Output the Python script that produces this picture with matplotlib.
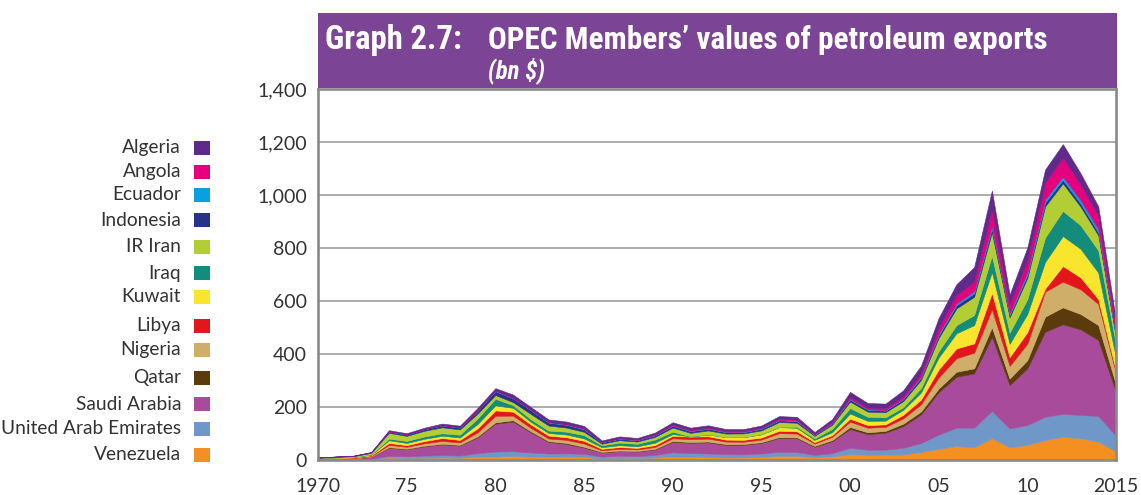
import matplotlib
matplotlib.use('Agg')
import matplotlib.pyplot as plt
from matplotlib import font_manager
from matplotlib.patches import Rectangle

# ---------------- data (bn $) ----------------
years = list(range(1970, 2016))

venezuela = [1.6, 2.0, 2.0, 3.2, 9.5, 7.5, 8.5, 9.0, 8.4, 13.2,
             13, 15, 13, 12, 13, 11.5, 6.0, 8.2, 7.5, 9.0,
             12, 11.5, 10.5, 9.5, 9.5, 11.5, 16, 15.5, 9.5, 13.5,
             22, 19.5, 20, 21, 30, 42, 53, 48, 82, 48,
             57, 75, 88, 82, 69, 33]
uae = [0.3, 0.5, 0.7, 1.2, 6.0, 6.3, 8.2, 9.2, 8.4, 12.5,
       19, 18, 15.5, 12.3, 12, 11.5, 6.8, 8.0, 7.2, 10,
       17, 14.5, 14, 12.5, 12, 13, 15, 14.5, 9.5, 12.5,
       24, 19, 19, 25, 34, 54, 69, 74, 103, 71,
       75, 88, 86, 88, 97, 58]
saudi = [1.5, 2.5, 3.3, 7.5, 31, 27, 35, 41, 38, 60,
         105, 112, 76, 44, 36, 24, 16, 17.5, 17.5, 21,
         40, 39, 42, 35, 36, 40, 52, 52, 31, 45,
         71, 59, 64, 82, 108, 160, 192, 205, 280, 164,
         214, 321, 338, 323, 287, 165]
qatar = [0.1, 0.2, 0.3, 0.5, 1.8, 1.7, 2.1, 1.9, 2.3, 3.5,
         5, 5.3, 4.0, 3.0, 3.5, 2.9, 1.6, 1.7, 1.6, 1.9,
         3, 2.8, 3.2, 2.9, 2.6, 2.8, 3.2, 3.3, 3.3, 4.3,
         7.5, 7, 7, 9, 11, 14, 19, 19, 36, 24,
         31, 57, 64, 58, 56, 28]
nigeria = [0.5, 0.8, 1.2, 2.2, 8.7, 7.4, 9.3, 11.0, 9.2, 15.5,
           25, 17, 12.5, 9.8, 11.5, 12.2, 6.0, 7, 6.2, 7.3,
           10, 11, 11, 9.5, 8.8, 9.5, 15, 14.5, 8.5, 12.5,
           20, 17.5, 15, 20, 27, 42, 51, 59, 68, 48,
           62, 94, 97, 93, 80, 42]
libya = [1.6, 1.8, 1.7, 2.9, 7.5, 6.2, 8.2, 10.8, 9.5, 14.8,
         20, 15, 13, 11, 10, 10.3, 5.8, 6.5, 5.7, 7.0,
         9.5, 9.5, 9, 7.5, 7.2, 8, 9, 8.5, 5.5, 6.5,
         11.5, 9.8, 9.5, 13.5, 18, 30, 37, 35, 62, 33,
         44, 12, 59, 45, 18, 11]
kuwait = [1.1, 1.5, 1.8, 2.4, 10, 8.2, 8.7, 8.7, 9.2, 16.4,
          19, 14.5, 10, 9.6, 10.2, 9, 6, 7.1, 6, 9,
          6.4, 0.8, 6.3, 9.5, 10.2, 12, 13.8, 13, 8.3, 11,
          19.5, 15.5, 14, 19, 26, 45, 57, 69, 78, 50,
          68, 100, 113, 108, 100, 48]
iraq = [0.6, 0.9, 0.8, 1.4, 6.0, 7.8, 8.8, 9.2, 10.5, 20.8,
        25, 10, 9.8, 9.4, 10.7, 12.3, 7.3, 9.5, 9.5, 12,
        9, 0.4, 0.5, 0.4, 0.5, 0.5, 0.7, 4.2, 6, 12.5,
        20.5, 15.8, 12.5, 9.7, 17, 24, 31, 38, 62, 42,
        56, 92, 95, 89, 84, 49]
iran = [1.6, 2.0, 3.0, 5.8, 22, 19, 21.5, 22.5, 20, 18.6,
        14, 11.5, 20, 19, 15.5, 12.7, 6, 9.3, 8.5, 10,
        15.5, 13, 15, 13, 13.5, 14.5, 18.5, 15, 9.5, 16,
        24.5, 19.3, 19.3, 23, 31, 50, 63, 69, 88, 58,
        80, 118, 104, 70, 57, 27]
indonesia = [0.3, 0.4, 0.6, 1.2, 4.5, 4.9, 5.7, 7.2, 6.8, 10,
             15, 15, 14, 11, 10.5, 9.5, 5.3, 5.5, 4.9, 5.8,
             7, 6.5, 6.5, 5.5, 5.3, 5.8, 6.7, 6.3, 4.0, 5.5,
             8, 7, 6.2, 7, 8.5, 10, 12, 13, 15, 9,
             12, 15, 13, 12, 11, 6]
ecuador = [0.0, 0.0, 0.1, 0.3, 0.7, 0.5, 0.8, 0.9, 0.8, 1.4,
           1.5, 1.5, 1.5, 1.6, 1.7, 1.8, 0.9, 0.8, 0.8, 1.1,
           1.4, 1.2, 1.3, 1.2, 1.3, 1.4, 1.7, 1.5, 0.8, 1.3,
           2.4, 1.9, 1.9, 2.6, 4, 6, 7, 8, 11, 7,
           10, 11, 12, 13, 13, 6.5]
angola = [0.1, 0.1, 0.2, 0.5, 0.8, 0.6, 0.6, 0.8, 0.8, 1.2,
          1.5, 1.6, 1.6, 1.7, 1.9, 2.0, 1.2, 2.0, 2.3, 2.9,
          3.6, 3.3, 3.6, 3.0, 3.0, 3.5, 4.6, 4.6, 3.0, 4.6,
          7.1, 6.5, 7.5, 9.2, 13, 23, 32, 36, 62, 34,
          45, 63, 73, 60, 50, 32]
algeria = [0.7, 0.6, 0.9, 1.3, 4.0, 4.0, 4.6, 5.3, 5.7, 8.7,
           8, 10.5, 9, 8.7, 8.7, 8.9, 4.8, 5.9, 5.3, 6.5,
           8, 8.5, 8, 7.3, 6.8, 7.7, 9.5, 10, 6.8, 9.5,
           19, 17, 17, 22, 28, 36, 40, 55, 70, 36,
           48, 50, 50, 41, 35, 20]

# stacking order bottom -> top
series_names = ['Venezuela', 'United Arab Emirates', 'Saudi Arabia', 'Qatar',
                'Nigeria', 'Libya', 'Kuwait', 'Iraq', 'IR Iran', 'Indonesia',
                'Ecuador', 'Angola', 'Algeria']
series_values = [venezuela, uae, saudi, qatar, nigeria, libya, kuwait, iraq,
                 iran, indonesia, ecuador, angola, algeria]
series_colors = ['#f39021', '#6f98c9', '#a84b9b', '#5b3b0b', '#cfae6a',
                 '#e3161b', '#f8e52c', '#138c7c', '#b3cd35', '#25338a',
                 '#0aa0e0', '#e6007e', '#5f2a8a']

legend_order = ['Algeria', 'Angola', 'Ecuador', 'Indonesia', 'IR Iran', 'Iraq',
                'Kuwait', 'Libya', 'Nigeria', 'Qatar', 'Saudi Arabia',
                'United Arab Emirates', 'Venezuela']

xtick_years = [1970, 1975, 1980, 1985, 1990, 1995, 2000, 2005, 2010, 2015]
xtick_labels = ['1970', '75', '80', '85', '90', '95', '00', '05', '10', '2015']
yticks = [0, 200, 400, 600, 800, 1000, 1200, 1400]


def have(name):
    try:
        font_manager.findfont(font_manager.FontProperties(family=name),
                              fallback_to_default=False)
        return True
    except Exception:
        return False


base_font = 'Lato' if have('Lato') else 'DejaVu Sans'
title_font = None
for cand in ['Liberation Sans Narrow', 'Roboto Condensed', 'Open Sans Condensed',
             'DejaVu Sans Condensed', 'Roboto', 'Lato']:
    if have(cand):
        title_font = cand
        break
if title_font is None:
    title_font = 'DejaVu Sans'

plt.rcParams['font.family'] = [base_font, 'DejaVu Sans']

W, H = 1141, 495
fig = plt.figure(figsize=(W / 100, H / 100), dpi=100)


def fx(px):
    return px / W


def fy(py):
    return 1 - py / H


ax = fig.add_axes([fx(318), fy(460), fx(1116) - fx(318), fy(89) - fy(460)])
ax.stackplot(years, *series_values, colors=series_colors,
             linewidth=0.4, edgecolor='face')
for poly, c in zip(ax.collections, series_colors):
    poly.set_edgecolor(c)

ax.set_xlim(1970, 2015)
ax.set_ylim(0, 1400)
ax.set_xticks(xtick_years)
ax.set_xticklabels(xtick_labels)
ax.set_yticks(yticks)
ax.set_yticklabels([f'{v:,}' for v in yticks])
ax.tick_params(axis='both', length=0, labelsize=14, colors='#333333')
ax.tick_params(axis='y', pad=8)
ax.tick_params(axis='x', pad=13)
ax.set_axisbelow(True)
ax.yaxis.grid(True, color='#a6a6a6', linewidth=1.3)
ax.xaxis.grid(False)
for s in ax.spines.values():
    s.set_color('#8a8a8a')
    s.set_linewidth(1.9)

# ---------------- title band ----------------
fig.patches.append(Rectangle((fx(318), fy(88)), fx(1117) - fx(318), fy(13) - fy(88),
                             transform=fig.transFigure, facecolor='#7b4494',
                             edgecolor='none', zorder=0))
t1 = fig.text(fx(325), fy(49), 'Graph 2.7:', color='white', fontweight='bold',
              fontsize=20, family=[title_font, 'DejaVu Sans'], va='baseline', ha='left')
t2 = fig.text(fx(488), fy(49), 'OPEC Members\u2019 values of petroleum exports',
              color='white', fontweight='bold', fontsize=20,
              family=[title_font, 'DejaVu Sans'], va='baseline', ha='left')
t3 = fig.text(fx(488), fy(78), '(bn $)', color='white', fontweight='bold',
              fontstyle='italic', fontsize=15, family=[title_font, 'DejaVu Sans'],
              va='baseline', ha='left')

# fit title widths to the reference
fig.canvas.draw()
r = fig.canvas.get_renderer()
for t, target in [(t1, 137), (t2, 556), (t3, 57)]:
    w = t.get_window_extent(r).width
    t.set_fontsize(t.get_fontsize() * target / w)

# ---------------- legend ----------------
legend_y = [148, 172, 195, 220, 247, 273, 297, 326, 350, 378, 404, 429, 455]
color_of = dict(zip(series_names, series_colors))
for name, py in zip(legend_order, legend_y):
    fig.text(fx(181), fy(py), name, ha='right', va='center', fontsize=13.8,
             color='#333333')
    fig.patches.append(Rectangle((fx(194), fy(py + 7)), fx(16), 14 / H,
                                 transform=fig.transFigure,
                                 facecolor=color_of[name], edgecolor='none'))

fig.savefig('out.png', dpi=100)
